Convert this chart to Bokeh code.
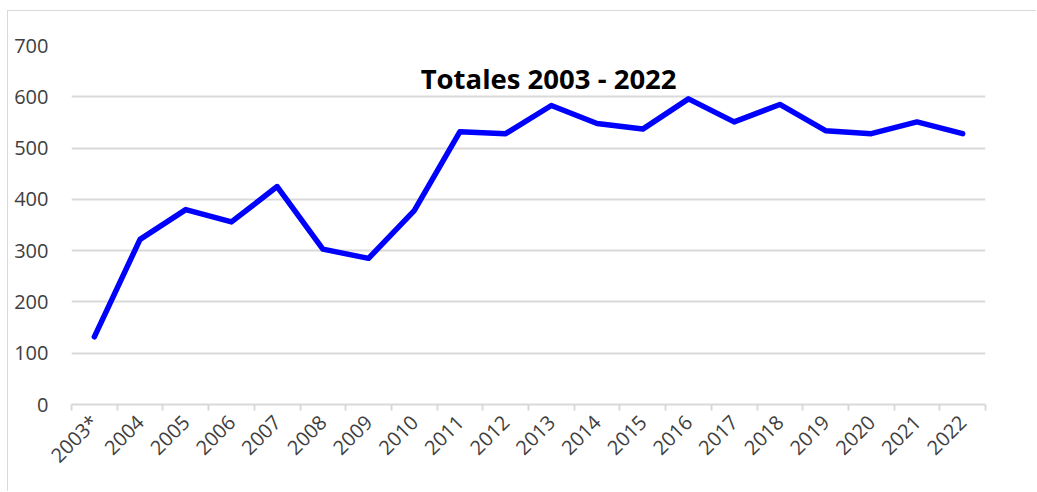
from bokeh.plotting import figure
from bokeh.models import FixedTicker, Range1d, Label, ColumnDataSource
from bokeh.embed import file_html
from bokeh.resources import INLINE
import math

years = ["2003*", "2004", "2005", "2006", "2007", "2008", "2009", "2010", "2011", "2012",
         "2013", "2014", "2015", "2016", "2017", "2018", "2019", "2020", "2021", "2022"]
totals = [132, 322, 380, 356, 425, 303, 285, 378, 532, 528,
          583, 548, 537, 596, 551, 585, 534, 528, 551, 528]
y_ticks = [0, 100, 200, 300, 400, 500, 600, 700]
title_text = "Totales 2003 - 2022"

n = len(years)
xs = [i + 0.5 for i in range(n)]
src = ColumnDataSource(dict(x=xs, y=totals))

p = figure(width=1029, height=481, output_backend="svg", toolbar_location=None,
           x_range=Range1d(0, n), y_range=Range1d(0, 700),
           min_border_left=63, min_border_right=52, min_border_top=34, min_border_bottom=88)
p.outline_line_color = None
p.background_fill_color = "white"
p.border_fill_color = "white"
p.styles = {"margin-left": "7px", "margin-top": "10px",
            "border-left": "1px solid #d9d9d9", "border-top": "1px solid #d9d9d9"}

p.line("x", "y", source=src, line_color="#0000ff", line_width=5.5,
       line_join="round", line_cap="round")

# x axis
xa = p.xaxis[0]
xa.ticker = FixedTicker(ticks=xs, minor_ticks=list(range(n + 1)))
xa.major_label_overrides = {x: y for x, y in zip(xs, years)}
xa.major_label_orientation = math.pi / 4
xa.major_tick_out = 0
xa.major_tick_in = 0
xa.minor_tick_out = 6
xa.minor_tick_in = 0
xa.minor_tick_line_color = "#d9d9d9"
xa.minor_tick_line_width = 2
xa.axis_line_color = "#d9d9d9"
xa.axis_line_width = 2
xa.major_label_text_font = "Open Sans"
xa.major_label_text_font_size = "20px"
xa.major_label_text_color = "#404040"
xa.major_label_standoff = 8

# y axis
ya = p.yaxis[0]
ya.ticker = FixedTicker(ticks=y_ticks)
ya.axis_line_color = None
ya.major_tick_line_color = None
ya.major_tick_out = 0
ya.major_tick_in = 0
ya.minor_tick_line_color = None
ya.major_label_text_font = "Open Sans"
ya.major_label_text_font_size = "20px"
ya.major_label_text_color = "#404040"
ya.major_label_standoff = 23

p.xgrid.grid_line_color = None
p.ygrid.grid_line_color = "#d9d9d9"
p.ygrid.grid_line_width = 2

p.add_layout(Label(x=10.44, y=636, text=title_text, text_font="Open Sans",
                   text_font_style="bold", text_font_size="27.5px",
                   text_align="center", text_baseline="middle", text_color="black"))

open("out.html", "w").write(file_html(p, INLINE))
